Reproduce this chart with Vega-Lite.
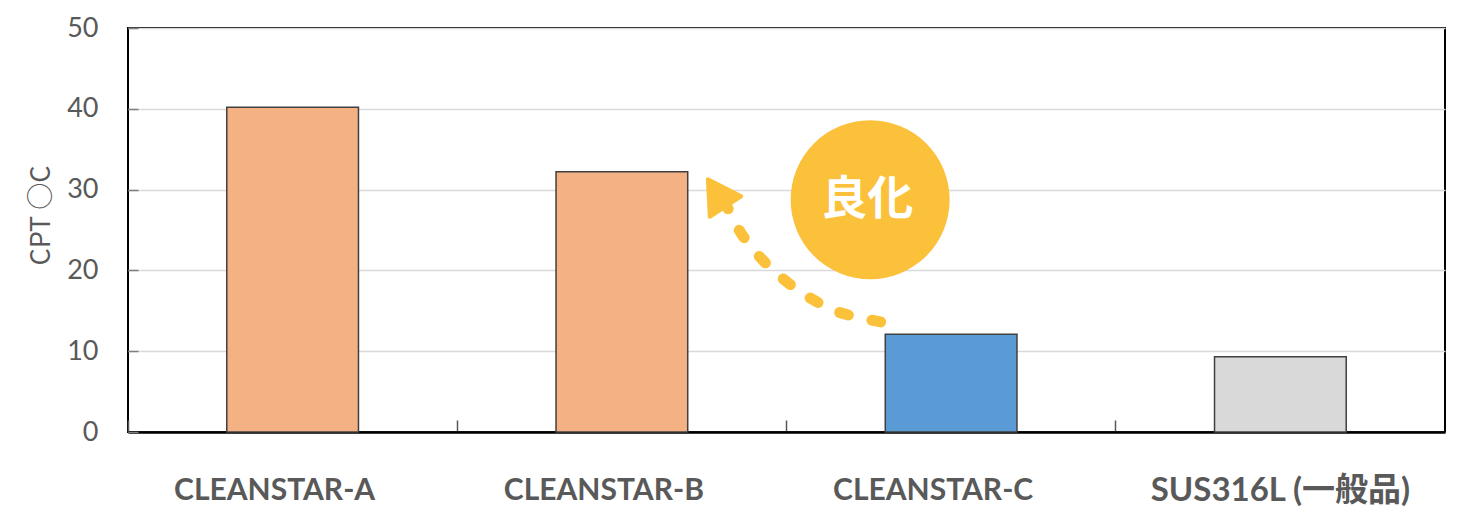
{
  "$schema": "https://vega.github.io/schema/vega-lite/v6.json",
  "width": 1317,
  "height": 404,
  "autosize": {"type": "none"},
  "padding": {"left": 128, "top": 28, "right": 19, "bottom": 98},
  "config": {"view": {"stroke": "#000000", "strokeWidth": 2}, "font": "Lato"},
  "datasets": {
    "bars": [
      {"material": "CLEANSTAR-A", "cpt": 40.2},
      {"material": "CLEANSTAR-B", "cpt": 32.2},
      {"material": "CLEANSTAR-C", "cpt": 12.1},
      {"material": "SUS316L (一般品)", "cpt": 9.3}
    ],
    "badge": [{"ax": 2.254, "cpt": 28.75, "label": "良化", "tx": 2.245}],
    "curve": [
      {"i": 0, "ax": 2.286, "cpt": 13.63},
      {"i": 1, "ax": 2.164, "cpt": 14.75},
      {"i": 2, "ax": 2.076, "cpt": 16.48},
      {"i": 3, "ax": 1.997, "cpt": 18.71},
      {"i": 4, "ax": 1.924, "cpt": 21.44},
      {"i": 5, "ax": 1.863, "cpt": 24.54},
      {"i": 6, "ax": 1.821, "cpt": 27.76},
      {"i": 7, "ax": 1.800, "cpt": 28.9}
    ],
    "head": [{"ax": 1.788, "cpt": 29.58}]
  },
  "layer": [
    {
      "data": {"name": "bars"},
      "mark": {"type": "bar", "width": {"band": 0.4}, "stroke": "#404040", "strokeWidth": 1.5},
      "encoding": {
        "x": {
          "field": "material", "type": "nominal", "sort": null,
          "scale": {"paddingInner": 0, "paddingOuter": 0},
          "axis": {
            "title": null, "labelAngle": 0, "bandPosition": 0,
            "labelOffset": {"condition": {"test": "indexof(datum.value, 'CLEANSTAR') >= 0", "value": -18}, "value": 0},
            "labelFontSize": {"condition": {"test": "indexof(datum.value, 'CLEANSTAR') >= 0", "value": 30}, "value": 33},
            "labelLimit": 0,
            "tickSize": -12, "tickColor": "#595959", "tickWidth": 1.5,
            "domain": true, "domainColor": "#000000", "domainWidth": 2.5,
            "labelFont": "Lato, Noto Sans CJK JP", "labelFontWeight": "bold",
            "labelColor": "#595959", "labelPadding": 70, "labelBaseline": "middle"
          }
        },
        "y": {
          "field": "cpt", "type": "quantitative",
          "scale": {"domain": [0, 50], "nice": false},
          "axis": {
            "values": [0, 10, 20, 30, 40, 50], "grid": true, "gridColor": "#D9D9D9", "gridWidth": 1.5,
            "domain": false, "tickSize": -10, "tickColor": "#7f7f7f", "tickWidth": 1.5,
            "labelFont": "Lato", "labelFontSize": 27, "labelColor": "#595959", "labelPadding": 40,
            "title": "CPT  ○C", "titleFont": "Noto Sans CJK JP", "titleFontSize": 27, "titleFontWeight": "normal",
            "titleColor": "#595959", "titleX": -87, "titleY": 187, "titleAngle": -90,
            "titleBaseline": "middle", "titleAlign": "center"
          }
        },
        "color": {
          "field": "material", "type": "nominal",
          "scale": {"domain": ["CLEANSTAR-A", "CLEANSTAR-B", "CLEANSTAR-C", "SUS316L (一般品)"], "range": ["#F4B183", "#F4B183", "#5B9BD5", "#D9D9D9"]},
          "legend": null
        }
      }
    },
    {
      "data": {"name": "badge"},
      "mark": {"type": "point", "shape": "circle", "filled": true, "color": "#FCC13B", "opacity": 1, "size": 25281},
      "encoding": {
        "x": {"field": "ax", "type": "quantitative", "scale": {"domain": [0, 4], "nice": false, "zero": false}, "axis": null},
        "y": {"field": "cpt", "type": "quantitative"}
      }
    },
    {
      "data": {"name": "badge"},
      "mark": {"type": "text", "font": "Noto Sans CJK JP", "fontWeight": "bold", "fontSize": 46, "color": "#FFFFFF", "baseline": "middle", "align": "center"},
      "encoding": {
        "x": {"field": "tx", "type": "quantitative", "scale": {"domain": [0, 4], "nice": false, "zero": false}, "axis": null},
        "y": {"field": "cpt", "type": "quantitative"},
        "text": {"field": "label"}
      }
    },
    {
      "data": {"name": "curve"},
      "mark": {"type": "line", "color": "#FCC13B", "strokeWidth": 11, "strokeCap": "round", "strokeDash": [9, 24], "interpolate": "cardinal"},
      "encoding": {
        "x": {"field": "ax", "type": "quantitative", "scale": {"domain": [0, 4], "nice": false, "zero": false}, "axis": null},
        "y": {"field": "cpt", "type": "quantitative"},
        "order": {"field": "i", "type": "quantitative"}
      }
    },
    {
      "data": {"name": "head"},
      "mark": {"type": "point", "shape": "triangle-up", "filled": true, "color": "#FCC13B", "opacity": 1, "size": 1400, "angle": -33, "strokeJoin": "round", "stroke": "#FCC13B", "strokeWidth": 4},
      "encoding": {
        "x": {"field": "ax", "type": "quantitative", "scale": {"domain": [0, 4], "nice": false, "zero": false}, "axis": null},
        "y": {"field": "cpt", "type": "quantitative"}
      }
    }
  ],
  "resolve": {"scale": {"x": "independent"}}
}
